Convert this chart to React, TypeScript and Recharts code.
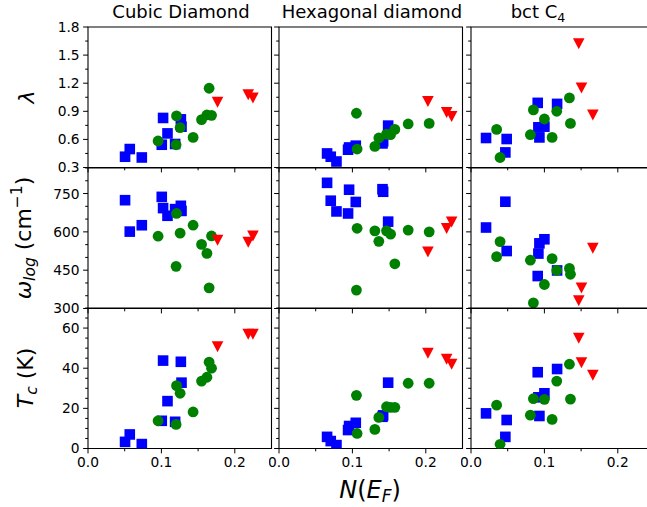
import React from "react";
import { ScatterChart, Scatter, XAxis, YAxis, ReferenceArea } from "recharts";

// ---- Cubic Diamond ----
const cubicSqN = [0.0505, 0.0569, 0.0733, 0.1023, 0.1083, 0.1005, 0.1187, 0.1265, 0.1274];
const cubicSqLambda = [0.415, 0.497, 0.407, 0.829, 0.664, 0.543, 0.551, 0.814, 0.736];
const cubicSqOmega = [724, 601, 626, 693, 663, 737, 689, 702, 682];
const cubicSqTc = [3.3, 7.0, 2.2, 43.8, 23.6, 13.8, 13.3, 43.2, 32.8];

const cubicCiN = [0.0955, 0.12, 0.1206, 0.1255, 0.1432, 0.1547, 0.162, 0.165, 0.1683];
const cubicCiLambda = [0.583, 0.543, 0.851, 0.725, 0.621, 0.811, 0.861, 1.146, 0.857];
const cubicCiOmega = [583, 465, 672, 595, 626, 551, 516, 381, 584];
const cubicCiTc = [13.8, 12.0, 31.3, 27.5, 18.2, 33.6, 35.5, 43.0, 40.0];

const cubicTrN = [0.1765, 0.2183, 0.2247];
const cubicTrLambda = [0.997, 1.079, 1.043];
const cubicTrOmega = [568, 560, 584];
const cubicTrTc = [50.8, 57.0, 57.0];

// ---- Hexagonal diamond ----
const hexSqN = [0.0655, 0.0705, 0.0783, 0.0941, 0.0955, 0.1046, 0.141, 0.1419, 0.1487];
const hexSqLambda = [0.45, 0.415, 0.364, 0.49, 0.514, 0.533, 0.557, 0.58, 0.747];
const hexSqOmega = [792, 722, 680, 672, 765, 717, 767, 757, 640];
const hexSqTc = [5.8, 3.7, 1.7, 9.2, 11.2, 12.8, 15.8, 16.5, 32.8];

const hexCiN = [0.1055, 0.1064, 0.1306, 0.136, 0.1465, 0.152, 0.1578, 0.176, 0.2046];
const hexCiLambda = [0.879, 0.497, 0.525, 0.615, 0.657, 0.65, 0.707, 0.765, 0.771];
const hexCiOmega = [372, 614, 604, 563, 604, 591, 475, 607, 600];
const hexCiTc = [26.5, 7.5, 9.5, 15.5, 20.8, 20.5, 20.5, 32.5, 32.5];

const hexTrN = [0.2029, 0.2284, 0.2352];
const hexTrLambda = [1.007, 0.889, 0.846];
const hexTrOmega = [522, 614, 639];
const hexTrTc = [47.5, 44.5, 42.0];

// ---- bct C4 ----
const bctSqN = [0.0205, 0.0486, 0.0468, 0.0909, 0.1173, 0.0918, 0.1, 0.0932];
const bctSqLambda = [0.615, 0.604, 0.461, 0.99, 0.979, 0.729, 0.736, 0.621];
const bctSqOmega = [617, 525, 718, 427, 449, 515, 571, 555];
const bctSqTc = [17.5, 14.2, 5.8, 38.0, 39.6, 25.5, 27.5, 16.2];

const bctCiN = [0.0349, 0.0396, 0.0809, 0.085, 0.1, 0.1105, 0.1168, 0.1341, 0.1355];
const bctCiLambda = [0.707, 0.407, 0.65, 0.915, 0.818, 0.621, 0.9, 1.043, 0.771];
const bctCiOmega = [503, 562, 489, 322, 394, 495, 449, 457, 434];
const bctCiTc = [21.6, 2.1, 16.6, 24.8, 24.5, 14.5, 33.6, 42.0, 24.6];

const bctTrN = [0.1468, 0.1505, 0.166];
const bctTrLambda = [1.622, 1.15, 0.861];
const bctTrOmega = [331, 381, 536];
const bctTrTc = [55.0, 42.8, 36.6];

// ---- axes ----
const xTicks = [0, 0.05, 0.1, 0.15, 0.2];
const xMajor = [0, 0.1, 0.2];
const lambdaTicks = [0.3, 0.45, 0.6, 0.75, 0.9, 1.05, 1.2, 1.35, 1.5, 1.65, 1.8];
const lambdaMajor = [0.3, 0.6, 0.9, 1.2, 1.5, 1.8];
const omegaTicks = [300, 350, 400, 450, 500, 550, 600, 650, 700, 750, 800, 850];
const omegaMajor = [300, 450, 600, 750];
const tcTicks = [0, 5, 10, 15, 20, 25, 30, 35, 40, 45, 50, 55, 60, 65, 70];
const tcMajor = [0, 20, 40, 60];

const FONT = "'DejaVu Sans', sans-serif";
const BLUE = "#0000ff";
const GREEN = "#008000";
const RED = "#ff0000";

const colX = [87.5, 279, 471];
const rowY = [27, 167.5, 308];
const PW = 183.5;
const PH = 140.5;

const zip = (xs: number[], ys: number[]) => xs.map((x, i) => ({ x, y: ys[i] }));

const squareShape = (p: any) => (
  <rect x={p.cx - 5.3} y={p.cy - 5.3} width={10.6} height={10.6} fill={BLUE} />
);
const circleShape = (p: any) => <circle cx={p.cx} cy={p.cy} r={5.4} fill={GREEN} />;
const triShape = (p: any) => (
  <path
    d={`M${p.cx - 5.8},${p.cy - 5.4}L${p.cx + 5.8},${p.cy - 5.4}L${p.cx},${p.cy + 5.6}Z`}
    fill={RED}
  />
);

const fmt1 = (v: number) => v.toFixed(1);
const fmt0 = (v: number) => String(v);

function Panel({ col, row, sq, ci, tr, domain, ticks, majors, fmt }: any) {
  const padL = col === 0 ? 60 : 10;
  const padB = row === 2 ? 30 : 8;
  const padT = 12;
  const padR = 2;
  const yLabels = col === 0;
  const xLabels = row === 2;

  const yTick = (props: any) => {
    const { x, y, payload } = props;
    const major = majors.includes(payload.value);
    const len = major ? 4.9 : 2.8;
    return (
      <g>
        <line x1={x - len} x2={x} y1={y} y2={y} stroke="#000" strokeWidth={1} />
        {major && yLabels && (
          <text x={x - len - 3.5} y={y} dy="0.36em" textAnchor="end" fontSize={13.8} fontFamily={FONT} fill="#000">
            {fmt(payload.value)}
          </text>
        )}
      </g>
    );
  };

  const xTick = (props: any) => {
    const { x, y, payload } = props;
    const major = xMajor.includes(payload.value);
    const len = major ? 4.9 : 2.8;
    return (
      <g>
        <line x1={x} x2={x} y1={y} y2={y + len} stroke="#000" strokeWidth={1} />
        {major && xLabels && (
          <text x={x} y={y + len + 3.5} dy="0.76em" textAnchor="middle" fontSize={13.8} fontFamily={FONT} fill="#000">
            {payload.value.toFixed(1)}
          </text>
        )}
      </g>
    );
  };

  return (
    <div style={{ position: "absolute", left: colX[col] - padL, top: rowY[row] - padT }}>
      <ScatterChart
        width={padL + PW + padR}
        height={padT + PH + padB}
        margin={{ top: padT, right: padR, bottom: 0, left: 0 }}
      >
        <XAxis
          type="number"
          dataKey="x"
          domain={[0, 0.25]}
          ticks={xTicks}
          interval={0}
          allowDataOverflow
          height={padB}
          tickSize={0}
          tickMargin={0}
          tickLine={false}
          axisLine={false}
          tick={xTick}
        />
        <YAxis
          type="number"
          dataKey="y"
          domain={domain}
          ticks={ticks}
          interval={0}
          allowDataOverflow
          width={padL}
          tickSize={0}
          tickMargin={0}
          tickLine={false}
          axisLine={false}
          tick={yTick}
        />
        <Scatter data={sq} shape={squareShape} isAnimationActive={false} />
        <Scatter data={ci} shape={circleShape} isAnimationActive={false} />
        <Scatter data={tr} shape={triShape} isAnimationActive={false} />
        <ReferenceArea
          x1={0}
          x2={0.25}
          y1={domain[0]}
          y2={domain[1]}
          fill="none"
          stroke="#000"
          strokeWidth={1.1}
          ifOverflow="visible"
        />
      </ScatterChart>
    </div>
  );
}

const columns = [
  {
    sq: [cubicSqN, cubicSqLambda, cubicSqOmega, cubicSqTc],
    ci: [cubicCiN, cubicCiLambda, cubicCiOmega, cubicCiTc],
    tr: [cubicTrN, cubicTrLambda, cubicTrOmega, cubicTrTc],
  },
  {
    sq: [hexSqN, hexSqLambda, hexSqOmega, hexSqTc],
    ci: [hexCiN, hexCiLambda, hexCiOmega, hexCiTc],
    tr: [hexTrN, hexTrLambda, hexTrOmega, hexTrTc],
  },
  {
    sq: [bctSqN, bctSqLambda, bctSqOmega, bctSqTc],
    ci: [bctCiN, bctCiLambda, bctCiOmega, bctCiTc],
    tr: [bctTrN, bctTrLambda, bctTrOmega, bctTrTc],
  },
];

const rows = [
  { domain: [0.3, 1.8], ticks: lambdaTicks, majors: lambdaMajor, fmt: fmt1 },
  { domain: [300, 850], ticks: omegaTicks, majors: omegaMajor, fmt: fmt0 },
  { domain: [0, 70], ticks: tcTicks, majors: tcMajor, fmt: fmt0 },
];

export default function App() {
  return (
    <div style={{ position: "absolute", left: 0, top: 0, width: 647, height: 507, background: "#fff", overflow: "hidden" }}>
      {columns.map((c, ci) =>
        rows.map((r, ri) => (
          <Panel
            key={`${ci}-${ri}`}
            col={ci}
            row={ri}
            sq={zip(c.sq[0], c.sq[ri + 1])}
            ci={zip(c.ci[0], c.ci[ri + 1])}
            tr={zip(c.tr[0], c.tr[ri + 1])}
            {...r}
          />
        ))
      )}
      <svg width={647} height={507} style={{ position: "absolute", left: 0, top: 0, pointerEvents: "none" }} fontFamily={FONT}>
        <text x={181} y={18} textAnchor="middle" fontSize={18}>Cubic Diamond</text>
        <text x={372} y={18} textAnchor="middle" fontSize={18}>Hexagonal diamond</text>
        <text x={538} y={18} textAnchor="middle" fontSize={18}>
          bct C<tspan fontSize={12.6} dy={4}>4</tspan>
        </text>
        <text transform="translate(34,97) rotate(-90)" textAnchor="middle" fontSize={22} fontStyle="italic">λ</text>
        <text transform="translate(31,238) rotate(-90)" textAnchor="middle" fontSize={22}>
          <tspan fontStyle="italic">ω</tspan>
          <tspan fontStyle="italic" fontSize={15.5} dy={4}>log</tspan>
          <tspan dy={-4}> (cm</tspan>
          <tspan fontSize={15.5} dy={-9}>−1</tspan>
          <tspan dy={9}>)</tspan>
        </text>
        <text transform="translate(33,378) rotate(-90)" textAnchor="middle" fontSize={22}>
          <tspan fontStyle="italic">T</tspan>
          <tspan fontStyle="italic" fontSize={15.5} dy={4}>c</tspan>
          <tspan dy={-4}> (K)</tspan>
        </text>
        <text x={370} y={498} textAnchor="middle" fontSize={24}>
          <tspan fontStyle="italic">N</tspan>
          <tspan>(</tspan>
          <tspan fontStyle="italic">E</tspan>
          <tspan fontStyle="italic" fontSize={17} dy={3.5}>F</tspan>
          <tspan dy={-3.5}>)</tspan>
        </text>
      </svg>
    </div>
  );
}
